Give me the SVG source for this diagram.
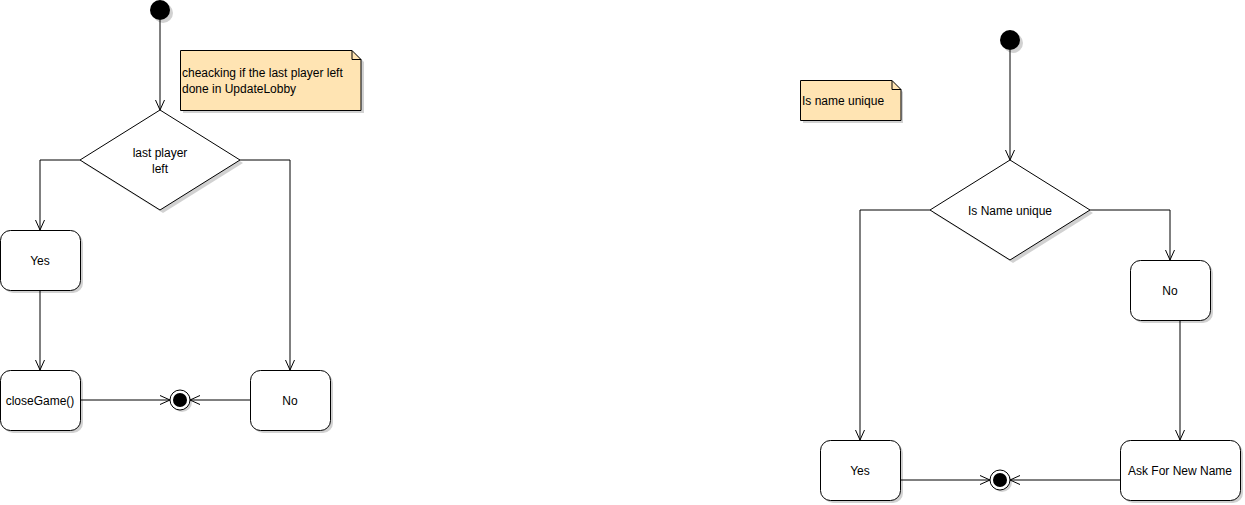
<svg xmlns="http://www.w3.org/2000/svg" width="1245" height="505" viewBox="0 0 1245 505">
<style>
.shape{fill:#fff;stroke:#000;stroke-width:1}
.shadow{fill:#000;fill-opacity:0.18;stroke:none}
.note{fill:#ffe4b3;stroke:#000;stroke-width:1}
.edge{fill:none;stroke:#000;stroke-width:1}
text{font-family:"Liberation Sans",Arial,sans-serif;font-size:12px;fill:#000}
.c{text-anchor:middle}
</style>
<defs>
<marker id="arr" viewBox="0 0 10 10" refX="10" refY="5" markerWidth="10" markerHeight="10" markerUnits="userSpaceOnUse" orient="auto">
<path d="M0,0.5 L10,5 L0,9.5" fill="none" stroke="#000" stroke-width="1"/>
</marker>
</defs>
<rect width="1245" height="505" fill="#fff"/>

<g id="connectors">
<path class="edge" d="M160,20 V110" marker-end="url(#arr)"/>
<path class="edge" d="M80,160 H40 V230" marker-end="url(#arr)"/>
<path class="edge" d="M240,160 H290 V370" marker-end="url(#arr)"/>
<path class="edge" d="M40,290 V370" marker-end="url(#arr)"/>
<path class="edge" d="M80,400 H170" marker-end="url(#arr)"/>
<path class="edge" d="M250,400 H190" marker-end="url(#arr)"/>
<path class="edge" d="M1010,50 V160" marker-end="url(#arr)"/>
<path class="edge" d="M930,210 H860 V440" marker-end="url(#arr)"/>
<path class="edge" d="M1090,210 H1170 V260" marker-end="url(#arr)"/>
<path class="edge" d="M1180,320 V440" marker-end="url(#arr)"/>
<path class="edge" d="M900,480 H990" marker-end="url(#arr)"/>
<path class="edge" d="M1120,480 H1010" marker-end="url(#arr)"/>
</g>

<g id="start1">
<circle class="shadow" cx="163" cy="13" r="10"/>
<circle cx="160" cy="10" r="10" fill="#000"/>
</g>
<g id="note1">
<path class="shadow" d="M183,53 H355 L364,62 V113 H183 Z"/>
<path class="note" d="M180.5,50.5 H352 L361,59.5 V110.5 H180.5 Z"/>
<path class="edge" d="M352,50.5 V59.5 H361"/>
<text x="182" y="77">cheacking if the last player left</text>
<text x="182" y="93">done in UpdateLobby</text>
</g>
<g id="decision1">
<path class="shadow" d="M163,113 L243,163 L163,213 L83,163 Z"/>
<path class="shape" d="M160,110 L240,160 L160,210 L80,160 Z"/>
<text class="c" x="160" y="157">last player</text>
<text class="c" x="160" y="173">left</text>
</g>
<g id="yes1">
<rect class="shadow" x="3" y="233" width="80" height="60" rx="10"/>
<rect class="shape" x="0.5" y="230.5" width="80" height="60" rx="10"/>
<text class="c" x="40" y="265">Yes</text>
</g>
<g id="close1">
<rect class="shadow" x="3" y="373" width="80" height="60" rx="10"/>
<rect class="shape" x="0.5" y="370.5" width="80" height="60" rx="10"/>
<text class="c" x="40" y="405">closeGame()</text>
</g>
<g id="no1">
<rect class="shadow" x="253" y="373" width="80" height="60" rx="10"/>
<rect class="shape" x="250.5" y="370.5" width="80" height="60" rx="10"/>
<text class="c" x="290" y="405">No</text>
</g>
<g id="end1">
<circle class="shadow" cx="182" cy="402" r="10"/>
<circle class="shape" cx="180" cy="400" r="10"/>
<circle cx="180" cy="400" r="7" fill="#000"/>
</g>

<g id="start2">
<circle class="shadow" cx="1013" cy="43" r="10"/>
<circle cx="1010" cy="40" r="10" fill="#000"/>
</g>
<g id="note2">
<path class="shadow" d="M803,83 H894 L903,92 V123 H803 Z"/>
<path class="note" d="M800.5,80.5 H892 L901,89.5 V120.5 H800.5 Z"/>
<path class="edge" d="M892,80.5 V89.5 H901"/>
<text x="802" y="105">Is name unique</text>
</g>
<g id="decision2">
<path class="shadow" d="M1013,163 L1093,213 L1013,263 L933,213 Z"/>
<path class="shape" d="M1010,160 L1090,210 L1010,260 L930,210 Z"/>
<text class="c" x="1010" y="215">Is Name unique</text>
</g>
<g id="no2">
<rect class="shadow" x="1133" y="263" width="80" height="60" rx="10"/>
<rect class="shape" x="1130.5" y="260.5" width="80" height="60" rx="10"/>
<text class="c" x="1170" y="295">No</text>
</g>
<g id="yes2">
<rect class="shadow" x="823" y="443" width="80" height="60" rx="10"/>
<rect class="shape" x="820.5" y="440.5" width="80" height="60" rx="10"/>
<text class="c" x="860" y="475">Yes</text>
</g>
<g id="ask2">
<rect class="shadow" x="1123" y="443" width="120" height="60" rx="10"/>
<rect class="shape" x="1120.5" y="440.5" width="120" height="60" rx="10"/>
<text class="c" x="1180" y="475">Ask For New Name</text>
</g>
<g id="end2">
<circle class="shadow" cx="1002" cy="482" r="10"/>
<circle class="shape" cx="1000" cy="480" r="10"/>
<circle cx="1000" cy="480" r="7" fill="#000"/>
</g>
</svg>
